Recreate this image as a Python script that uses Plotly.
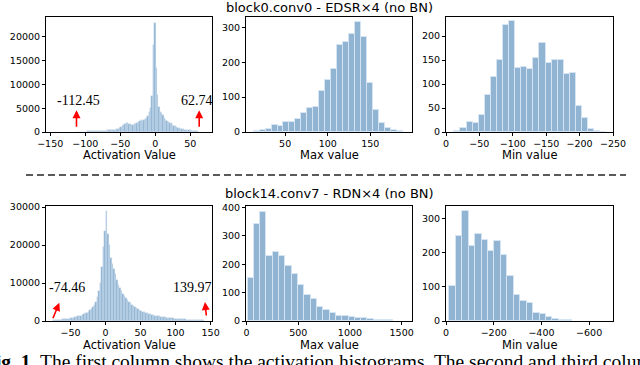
import numpy as np
import plotly.graph_objects as go

# ---- values ----
# EDSR x4, block0.conv0: activation histogram, evenly binned between min and max
edsr_act_min, edsr_act_max = -112.45, 62.74
edsr_act_counts = [
    30, 40, 50, 60, 70, 80, 90, 100, 110, 120,
    130, 140, 150, 160, 170, 180, 200, 220, 230, 250,
    270, 300, 350, 400, 420, 380, 350, 400, 450, 550,
    700, 900, 1100, 1300, 1500, 1700, 1800, 1800, 1700, 1600,
    1500, 1500, 1600, 1700, 2000, 2200, 2300, 2500, 2400, 2500,
    2700, 3000, 3400, 4200, 5000, 7500, 18300, 23000, 13500, 7700,
    5300, 4300, 4000, 3500, 3000, 2600, 2300, 2100, 1900, 1800,
    1500, 1300, 1200, 1000, 900, 800, 700, 600, 550, 500,
    450, 400, 380, 350, 300, 280, 250, 200, 150, 100,
]
# per-channel max / min values
edsr_max_start, edsr_max_width = 13.0, 7.0
edsr_max_counts = [3, 5, 9, 19, 18, 28, 30, 36, 55, 68, 72, 117, 148, 182,
                   250, 257, 282, 317, 274, 141, 64, 26, 12, 7, 2]
edsr_min_start, edsr_min_width = -12.5, -9.1
edsr_min_counts = [3, 8, 21, 18, 36, 77, 114, 151, 224, 231, 133, 135, 131,
                   155, 185, 143, 151, 151, 121, 124, 55, 29, 6, 3, 1]

# RDN x4, block14.conv7
rdn_act_min, rdn_act_max = -74.46, 139.97
rdn_act_counts = [
    150, 180, 220, 260, 300, 350, 400, 450, 500, 550,
    620, 700, 800, 850, 950, 1050, 1200, 1300, 1400, 1600,
    1800, 2000, 2200, 2500, 2800, 3200, 3700, 4300, 5000, 6200,
    7800, 10000, 14300, 19500, 23800, 29000, 23000, 20000, 16500, 15000,
    13800, 12500, 10800, 9500, 8600, 7800, 7100, 6500, 6000, 5500,
    5100, 4700, 4300, 4000, 3700, 3400, 3100, 2900, 2700, 2500,
    2300, 2150, 2000, 1850, 1750, 1650, 1550, 1450, 1350, 1250,
    1200, 1100, 1050, 1000, 950, 900, 850, 800, 750, 700,
    660, 620, 580, 540, 500, 470, 440, 410, 380, 350,
    330, 310, 290, 270, 250, 230, 210, 190, 170, 150,
]
rdn_max_start, rdn_max_width = 10.0, 61.0
rdn_max_counts = [150, 342, 383, 228, 243, 228, 193, 166, 126, 90, 78, 50,
                  40, 27, 18, 16, 15, 12, 9, 6, 2, 4, 4]
rdn_min_start, rdn_min_width = -14.0, -27.0
rdn_min_counts = [103, 250, 324, 219, 255, 237, 207, 235, 193, 131, 75, 58,
                  53, 24, 22, 12, 6, 4, 3]

row_titles = ["block0.conv0 - EDSR×4 (no BN)", "block14.conv7 - RDN×4 (no BN)"]
col_labels = ["Activation Value", "Max value", "Min value"]
caption = ("<b>Fig. 1.</b> The first column shows the activation histograms. "
           "The second and third columns show the distributions")

W, H = 640, 365
FILL = "rgba(70,130,180,0.6)"
EDGE = "rgba(215,230,245,0.9)"


def centers(start, width, n):
    return start + width * (np.arange(n) + 0.5)


def px(x):
    return x / W


def py(y):
    return 1 - y / H


act_w1 = (edsr_act_max - edsr_act_min) / len(edsr_act_counts)
act_w2 = (rdn_act_max - rdn_act_min) / len(rdn_act_counts)

panels = [
    (centers(edsr_act_min, act_w1, len(edsr_act_counts)), edsr_act_counts, act_w1, 0.4),
    (centers(edsr_max_start, edsr_max_width, len(edsr_max_counts)), edsr_max_counts, edsr_max_width, 1),
    (centers(edsr_min_start, edsr_min_width, len(edsr_min_counts)), edsr_min_counts, abs(edsr_min_width), 1),
    (centers(rdn_act_min, act_w2, len(rdn_act_counts)), rdn_act_counts, act_w2, 0.4),
    (centers(rdn_max_start, rdn_max_width, len(rdn_max_counts)), rdn_max_counts, rdn_max_width, 1),
    (centers(rdn_min_start, rdn_min_width, len(rdn_min_counts)), rdn_min_counts, abs(rdn_min_width), 1),
]

fig = go.Figure()
for k, (x, y, w, lw) in enumerate(panels):
    sfx = "" if k == 0 else str(k + 1)
    fig.add_trace(go.Bar(x=x, y=y, width=w, marker=dict(color=FILL, line=dict(color=EDGE, width=lw)),
                         xaxis="x" + sfx, yaxis="y" + sfx, showlegend=False))

cols = [(46, 212), (246, 412), (446, 613)]
rows = [(17, 132), (206, 321)]
xranges = [[-156, 81], [4, 199], [0, -250], [-85, 152], [-5, 1600], [0, -700]]
yranges = [[0, 24200], [0, 330], [0, 240], [0, 30300], [0, 405], [0, 338]]
xdticks = [50, 50, 50, 50, 500, 200]
ydticks = [5000, 100, 50, 10000, 100, 100]

tickfont = dict(family="DejaVu Sans", size=9.5, color="black")
for k in range(6):
    r, c = divmod(k, 3)
    sfx = "" if k == 0 else str(k + 1)
    common = dict(showline=True, mirror=True, linecolor="black", linewidth=1,
                  ticks="outside", ticklen=3, tickwidth=1, tickcolor="black",
                  showgrid=False, zeroline=False, tickfont=tickfont, tickformat="d",
                  automargin=False)
    fig.layout["xaxis" + sfx] = dict(
        domain=[px(cols[c][0]), px(cols[c][1])], anchor="y" + sfx,
        range=xranges[k], dtick=xdticks[k], tick0=0, **common)
    fig.layout["yaxis" + sfx] = dict(
        domain=[py(rows[r][1]), py(rows[r][0])], anchor="x" + sfx,
        range=yranges[k], dtick=ydticks[k], tick0=0, **common)

ann = []
for r, t in enumerate(row_titles):
    ann.append(dict(text=t, x=px(329), y=py([7, 193][r]), xref="paper", yref="paper",
                    xanchor="center", yanchor="middle", showarrow=False,
                    font=dict(family="DejaVu Sans", size=13, color="black")))
# x axis labels, sitting tight under the tick labels
for r, yy in enumerate([155, 345]):
    for c, lab in enumerate(col_labels):
        ann.append(dict(text=lab, x=px(sum(cols[c]) / 2), y=py(yy), xref="paper", yref="paper",
                        xanchor="center", yanchor="middle", showarrow=False,
                        font=dict(family="DejaVu Sans", size=11.5, color="black")))

serif = dict(family="Liberation Serif", size=14, color="black")
# min / max value labels with red arrows
marks = [
    ("x", "y", edsr_act_min, 4600, 0, 18, -110, 6700),
    ("x", "y", edsr_act_max, 4600, 0, 18, 60, 6700),
    ("x4", "y4", -66, 4800, -7, 17, -55, 8700),
    ("x4", "y4", rdn_act_max + 2, 5000, 1.5, 15, 124, 8700),
]
labels = ["-112.45", "62.74", "-74.46", "139.97"]
for (xr, yr, ax_, ay_, dx, dy, tx, ty), lab in zip(marks, labels):
    ann.append(dict(x=ax_, y=ay_, xref=xr, yref=yr, ax=dx, ay=dy, text="", showarrow=True,
                    arrowhead=2, arrowsize=1, arrowwidth=1.6, arrowcolor="red"))
    ann.append(dict(x=tx, y=ty, xref=xr, yref=yr, text=lab, showarrow=False,
                    xanchor="center", yanchor="middle", font=serif))

# figure caption, cut off by the bottom edge as in the reference
ann.append(dict(text=caption, x=px(-18), y=py(349), xref="paper", yref="paper",
                xanchor="left", yanchor="top", showarrow=False,
                font=dict(family="Liberation Serif", size=19.5, color="black")))

fig.update_layout(
    width=W, height=H, margin=dict(l=0, r=0, t=0, b=0, autoexpand=False),
    paper_bgcolor="white", plot_bgcolor="white", bargap=0,
    annotations=ann,
    shapes=[dict(type="line", xref="paper", yref="paper", x0=px(26), x1=px(626), y0=py(175), y1=py(175),
                 line=dict(color="rgb(90,90,90)", width=2, dash="7px,4px"))],
)

fig.write_html("out.html", config={"displayModeBar": False},
               post_script="document.body.style.margin='0';")
